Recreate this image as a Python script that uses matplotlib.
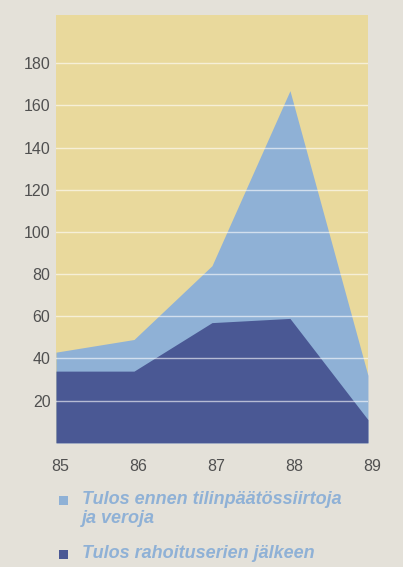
import matplotlib
matplotlib.use('Agg')
import matplotlib.pyplot as plt
import matplotlib.transforms as mtransforms
from matplotlib.patches import Rectangle

plt.rcParams['font.family'] = ['Liberation Sans', 'DejaVu Sans']

years = [85, 86, 87, 88, 89]
year_labels = ['85', '86', '87', '88', '89']
# Tulos ennen tilinpäätössiirtoja ja veroja
tulos_ennen = [43, 49, 84, 167, 32]
# Tulos rahoituserien jälkeen
tulos_rahoitus = [34, 34, 57, 59, 11]
yticks = [20, 40, 60, 80, 100, 120, 140, 160, 180]
legend_labels = ['Tulos ennen tilinpäätössiirtoja\nja veroja', 'Tulos rahoituserien jälkeen']

paper = '#e4e1d9'
yellow = '#e9d99c'
light = '#8fb1d6'
dark = '#4a5894'
text_c = '#505050'

fig = plt.figure(figsize=(4.03, 5.67), dpi=100, facecolor=paper)
ax = fig.add_axes([0.139, 0.219, 0.774, 0.755])
ax.set_facecolor(yellow)

ax.fill_between(years, 0, tulos_ennen, color=light, lw=0, zorder=1)
ax.fill_between(years, 0, tulos_rahoitus, color=dark, lw=0, zorder=2)

# white rules drawn over the areas
for y in yticks:
    ax.axhline(y, color='white', lw=1.0, alpha=0.6, zorder=3)

ax.set_xlim(85, 89)
ax.set_ylim(0, 203)
ax.set_yticks(yticks)
ax.set_yticklabels([str(v) for v in yticks], fontsize=11.5, color=text_c)
ax.set_xticks(years)
ax.set_xticklabels(year_labels, fontsize=11.5, color=text_c)
ax.tick_params(length=0, axis='y', pad=4)
ax.tick_params(length=0, axis='x', pad=12)
shift = mtransforms.ScaledTranslation(4 / 100, 0, fig.dpi_scale_trans)
for lab in ax.get_xticklabels():
    lab.set_transform(lab.get_transform() + shift)
for s in ax.spines.values():
    s.set_visible(False)

# legend below the plot, markers next to first line of each entry
W, H = 403, 567
legend_y = [500, 554]
for lab, col, yy in zip(legend_labels, [light, dark], legend_y):
    fig.patches.append(Rectangle((59 / W, 1 - (yy + 5) / H), 9 / W, 9 / H,
                                 transform=fig.transFigure, color=col, lw=0))
    fig.text(82 / W, 1 - (yy - 9) / H, lab, ha='left', va='top', fontsize=13,
             fontweight='bold', fontstyle='italic', color=light, linespacing=1.15)

fig.savefig('out.png', dpi=100, facecolor=paper)
